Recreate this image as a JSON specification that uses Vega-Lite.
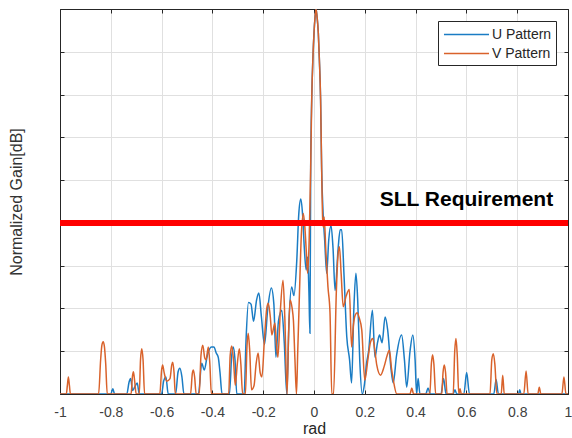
{
 "$schema": "https://vega.github.io/schema/vega-lite/v6.json",
 "width": 508, "height": 385,
 "autosize": {"type": "none"},
 "padding": {"left": 60, "top": 9, "right": 4, "bottom": 44},
 "background": "white",
 "config": {"view": {"stroke": null}, "font": "Liberation Sans"},
 "datasets": {
  "pts": [
   {"pattern":"U Pattern","x":-1,"y":-45},{"pattern":"U Pattern","x":-0.8,"y":-45},{"pattern":"U Pattern","x":-0.792,"y":-44.4},{"pattern":"U Pattern","x":-0.785,"y":-45},
   {"pattern":"U Pattern","x":-0.737,"y":-45},{"pattern":"U Pattern","x":-0.728,"y":-43.6},{"pattern":"U Pattern","x":-0.722,"y":-43.2},{"pattern":"U Pattern","x":-0.714,"y":-44.6},{"pattern":"U Pattern","x":-0.706,"y":-44.2},{"pattern":"U Pattern","x":-0.696,"y":-43.7},{"pattern":"U Pattern","x":-0.688,"y":-45},
   {"pattern":"U Pattern","x":-0.6,"y":-45},{"pattern":"U Pattern","x":-0.592,"y":-43.5},{"pattern":"U Pattern","x":-0.583,"y":-43},{"pattern":"U Pattern","x":-0.574,"y":-45},
   {"pattern":"U Pattern","x":-0.545,"y":-45},{"pattern":"U Pattern","x":-0.535,"y":-42.4},{"pattern":"U Pattern","x":-0.528,"y":-42},{"pattern":"U Pattern","x":-0.52,"y":-43},{"pattern":"U Pattern","x":-0.512,"y":-45},
   {"pattern":"U Pattern","x":-0.455,"y":-45},{"pattern":"U Pattern","x":-0.442,"y":-41.4},{"pattern":"U Pattern","x":-0.432,"y":-42.2},{"pattern":"U Pattern","x":-0.42,"y":-40.5},{"pattern":"U Pattern","x":-0.404,"y":-39.5},{"pattern":"U Pattern","x":-0.394,"y":-39.5},{"pattern":"U Pattern","x":-0.385,"y":-40.2},{"pattern":"U Pattern","x":-0.377,"y":-40.7},{"pattern":"U Pattern","x":-0.37,"y":-42.5},{"pattern":"U Pattern","x":-0.362,"y":-45},
   {"pattern":"U Pattern","x":-0.333,"y":-45},{"pattern":"U Pattern","x":-0.324,"y":-40.5},{"pattern":"U Pattern","x":-0.318,"y":-39.5},{"pattern":"U Pattern","x":-0.311,"y":-41},{"pattern":"U Pattern","x":-0.304,"y":-45},
   {"pattern":"U Pattern","x":-0.275,"y":-45},{"pattern":"U Pattern","x":-0.268,"y":-39},{"pattern":"U Pattern","x":-0.258,"y":-34.3},{"pattern":"U Pattern","x":-0.248,"y":-34.5},{"pattern":"U Pattern","x":-0.238,"y":-36.5},{"pattern":"U Pattern","x":-0.226,"y":-34},{"pattern":"U Pattern","x":-0.217,"y":-33.2},{"pattern":"U Pattern","x":-0.207,"y":-36},{"pattern":"U Pattern","x":-0.195,"y":-39.2},{"pattern":"U Pattern","x":-0.182,"y":-35},{"pattern":"U Pattern","x":-0.168,"y":-32.6},{"pattern":"U Pattern","x":-0.158,"y":-34.5},{"pattern":"U Pattern","x":-0.15,"y":-40.7},{"pattern":"U Pattern","x":-0.14,"y":-36.5},{"pattern":"U Pattern","x":-0.127,"y":-35.2},{"pattern":"U Pattern","x":-0.117,"y":-39},{"pattern":"U Pattern","x":-0.107,"y":-45},{"pattern":"U Pattern","x":-0.099,"y":-37},{"pattern":"U Pattern","x":-0.088,"y":-32.5},{"pattern":"U Pattern","x":-0.079,"y":-33.5},{"pattern":"U Pattern","x":-0.068,"y":-29.5},{"pattern":"U Pattern","x":-0.06,"y":-24},{"pattern":"U Pattern","x":-0.052,"y":-22.2},{"pattern":"U Pattern","x":-0.045,"y":-24},{"pattern":"U Pattern","x":-0.038,"y":-28},{"pattern":"U Pattern","x":-0.031,"y":-30.5},{"pattern":"U Pattern","x":-0.025,"y":-29},{"pattern":"U Pattern","x":-0.02,"y":-33},{"pattern":"U Pattern","x":-0.016,"y":-37.9},
   {"pattern":"U Pattern","x":-0.013,"y":-18.5},{"pattern":"U Pattern","x":-0.009,"y":-10.6},{"pattern":"U Pattern","x":-0.004,"y":-5.5},{"pattern":"U Pattern","x":0,"y":-2.8},{"pattern":"U Pattern","x":0.004,"y":-1},{"pattern":"U Pattern","x":0.008,"y":0},{"pattern":"U Pattern","x":0.012,"y":-0.9},{"pattern":"U Pattern","x":0.017,"y":-2.8},{"pattern":"U Pattern","x":0.021,"y":-5.8},{"pattern":"U Pattern","x":0.026,"y":-10.6},{"pattern":"U Pattern","x":0.03,"y":-18.5},
   {"pattern":"U Pattern","x":0.036,"y":-24},{"pattern":"U Pattern","x":0.042,"y":-27},{"pattern":"U Pattern","x":0.05,"y":-30.9},{"pattern":"U Pattern","x":0.058,"y":-27},{"pattern":"U Pattern","x":0.067,"y":-25.3},{"pattern":"U Pattern","x":0.075,"y":-28},{"pattern":"U Pattern","x":0.083,"y":-32.9},{"pattern":"U Pattern","x":0.095,"y":-28},{"pattern":"U Pattern","x":0.103,"y":-25.8},{"pattern":"U Pattern","x":0.109,"y":-25.8},{"pattern":"U Pattern","x":0.118,"y":-31},{"pattern":"U Pattern","x":0.129,"y":-38.3},{"pattern":"U Pattern","x":0.14,"y":-41},{"pattern":"U Pattern","x":0.148,"y":-43.7},{"pattern":"U Pattern","x":0.157,"y":-35},{"pattern":"U Pattern","x":0.165,"y":-30.9},{"pattern":"U Pattern","x":0.172,"y":-34},{"pattern":"U Pattern","x":0.18,"y":-41},{"pattern":"U Pattern","x":0.19,"y":-45},{"pattern":"U Pattern","x":0.198,"y":-44},{"pattern":"U Pattern","x":0.207,"y":-41.4},{"pattern":"U Pattern","x":0.215,"y":-40},{"pattern":"U Pattern","x":0.23,"y":-35.2},{"pattern":"U Pattern","x":0.24,"y":-40.7},{"pattern":"U Pattern","x":0.25,"y":-39},{"pattern":"U Pattern","x":0.258,"y":-38.1},{"pattern":"U Pattern","x":0.268,"y":-39},{"pattern":"U Pattern","x":0.28,"y":-36},{"pattern":"U Pattern","x":0.29,"y":-37.5},{"pattern":"U Pattern","x":0.303,"y":-42},{"pattern":"U Pattern","x":0.312,"y":-43.7},{"pattern":"U Pattern","x":0.325,"y":-40.5},{"pattern":"U Pattern","x":0.345,"y":-38.1},{"pattern":"U Pattern","x":0.356,"y":-41},{"pattern":"U Pattern","x":0.365,"y":-44.2},{"pattern":"U Pattern","x":0.378,"y":-40},{"pattern":"U Pattern","x":0.389,"y":-38.1},{"pattern":"U Pattern","x":0.398,"y":-41},{"pattern":"U Pattern","x":0.404,"y":-45},{"pattern":"U Pattern","x":0.41,"y":-43.2},{"pattern":"U Pattern","x":0.417,"y":-45},
   {"pattern":"U Pattern","x":0.44,"y":-45},{"pattern":"U Pattern","x":0.449,"y":-44.3},{"pattern":"U Pattern","x":0.458,"y":-45},{"pattern":"U Pattern","x":0.5,"y":-45},{"pattern":"U Pattern","x":0.51,"y":-43.2},{"pattern":"U Pattern","x":0.52,"y":-45},{"pattern":"U Pattern","x":0.548,"y":-45},{"pattern":"U Pattern","x":0.555,"y":-44.5},{"pattern":"U Pattern","x":0.562,"y":-45},{"pattern":"U Pattern","x":0.59,"y":-45},{"pattern":"U Pattern","x":0.601,"y":-42.5},{"pattern":"U Pattern","x":0.612,"y":-45},{"pattern":"U Pattern","x":0.708,"y":-45},{"pattern":"U Pattern","x":0.717,"y":-43.3},{"pattern":"U Pattern","x":0.726,"y":-45},{"pattern":"U Pattern","x":0.805,"y":-45},{"pattern":"U Pattern","x":0.81,"y":-44.5},{"pattern":"U Pattern","x":0.815,"y":-45},{"pattern":"U Pattern","x":1,"y":-45},

   {"pattern":"V Pattern","x":-1,"y":-45},{"pattern":"V Pattern","x":-0.975,"y":-45},{"pattern":"V Pattern","x":-0.971,"y":-44},{"pattern":"V Pattern","x":-0.967,"y":-43},{"pattern":"V Pattern","x":-0.963,"y":-44},{"pattern":"V Pattern","x":-0.959,"y":-45},
   {"pattern":"V Pattern","x":-0.848,"y":-45},{"pattern":"V Pattern","x":-0.84,"y":-41},{"pattern":"V Pattern","x":-0.835,"y":-39.3},{"pattern":"V Pattern","x":-0.83,"y":-38.9},{"pattern":"V Pattern","x":-0.825,"y":-39.5},{"pattern":"V Pattern","x":-0.82,"y":-41.5},{"pattern":"V Pattern","x":-0.814,"y":-45},
   {"pattern":"V Pattern","x":-0.72,"y":-45},{"pattern":"V Pattern","x":-0.715,"y":-43},{"pattern":"V Pattern","x":-0.711,"y":-42.4},{"pattern":"V Pattern","x":-0.706,"y":-43.5},{"pattern":"V Pattern","x":-0.7,"y":-45},
   {"pattern":"V Pattern","x":-0.688,"y":-45},{"pattern":"V Pattern","x":-0.683,"y":-41},{"pattern":"V Pattern","x":-0.678,"y":-39.7},{"pattern":"V Pattern","x":-0.673,"y":-41},{"pattern":"V Pattern","x":-0.667,"y":-45},
   {"pattern":"V Pattern","x":-0.607,"y":-45},{"pattern":"V Pattern","x":-0.6,"y":-42.2},{"pattern":"V Pattern","x":-0.596,"y":-41.6},{"pattern":"V Pattern","x":-0.59,"y":-42.5},{"pattern":"V Pattern","x":-0.58,"y":-43.5},{"pattern":"V Pattern","x":-0.567,"y":-43.2},{"pattern":"V Pattern","x":-0.56,"y":-41.6},{"pattern":"V Pattern","x":-0.556,"y":-41.3},{"pattern":"V Pattern","x":-0.551,"y":-42.5},{"pattern":"V Pattern","x":-0.546,"y":-45},
   {"pattern":"V Pattern","x":-0.486,"y":-45},{"pattern":"V Pattern","x":-0.479,"y":-42.6},{"pattern":"V Pattern","x":-0.475,"y":-42.2},{"pattern":"V Pattern","x":-0.47,"y":-43},{"pattern":"V Pattern","x":-0.464,"y":-45},
   {"pattern":"V Pattern","x":-0.452,"y":-45},{"pattern":"V Pattern","x":-0.445,"y":-40.5},{"pattern":"V Pattern","x":-0.438,"y":-39.3},{"pattern":"V Pattern","x":-0.43,"y":-40.8},{"pattern":"V Pattern","x":-0.425,"y":-41},{"pattern":"V Pattern","x":-0.416,"y":-39.5},{"pattern":"V Pattern","x":-0.41,"y":-41.5},{"pattern":"V Pattern","x":-0.404,"y":-45},
   {"pattern":"V Pattern","x":-0.336,"y":-45},{"pattern":"V Pattern","x":-0.33,"y":-40.5},{"pattern":"V Pattern","x":-0.324,"y":-39.4},{"pattern":"V Pattern","x":-0.317,"y":-41},{"pattern":"V Pattern","x":-0.31,"y":-44},{"pattern":"V Pattern","x":-0.302,"y":-41.5},{"pattern":"V Pattern","x":-0.294,"y":-39.7},{"pattern":"V Pattern","x":-0.288,"y":-41.5},{"pattern":"V Pattern","x":-0.281,"y":-45},
   {"pattern":"V Pattern","x":-0.27,"y":-45},{"pattern":"V Pattern","x":-0.264,"y":-39.5},{"pattern":"V Pattern","x":-0.259,"y":-37.9},{"pattern":"V Pattern","x":-0.253,"y":-40},{"pattern":"V Pattern","x":-0.246,"y":-44.5},{"pattern":"V Pattern","x":-0.236,"y":-44},{"pattern":"V Pattern","x":-0.228,"y":-41.5},{"pattern":"V Pattern","x":-0.22,"y":-40.2},{"pattern":"V Pattern","x":-0.212,"y":-42.5},{"pattern":"V Pattern","x":-0.205,"y":-43},{"pattern":"V Pattern","x":-0.195,"y":-38.5},{"pattern":"V Pattern","x":-0.186,"y":-35},{"pattern":"V Pattern","x":-0.18,"y":-34.4},{"pattern":"V Pattern","x":-0.172,"y":-36},{"pattern":"V Pattern","x":-0.166,"y":-38.1},{"pattern":"V Pattern","x":-0.154,"y":-36.7},{"pattern":"V Pattern","x":-0.147,"y":-39.5},{"pattern":"V Pattern","x":-0.142,"y":-40.7},{"pattern":"V Pattern","x":-0.133,"y":-35.5},{"pattern":"V Pattern","x":-0.122,"y":-31.7},{"pattern":"V Pattern","x":-0.115,"y":-36},{"pattern":"V Pattern","x":-0.106,"y":-45},{"pattern":"V Pattern","x":-0.1,"y":-38},{"pattern":"V Pattern","x":-0.094,"y":-34},{"pattern":"V Pattern","x":-0.086,"y":-35},{"pattern":"V Pattern","x":-0.081,"y":-36.4},{"pattern":"V Pattern","x":-0.075,"y":-41},{"pattern":"V Pattern","x":-0.069,"y":-45},{"pattern":"V Pattern","x":-0.064,"y":-40},{"pattern":"V Pattern","x":-0.058,"y":-34},{"pattern":"V Pattern","x":-0.05,"y":-26.5},{"pattern":"V Pattern","x":-0.042,"y":-23.9},{"pattern":"V Pattern","x":-0.036,"y":-25.5},{"pattern":"V Pattern","x":-0.03,"y":-28.5},{"pattern":"V Pattern","x":-0.025,"y":-30.9},{"pattern":"V Pattern","x":-0.019,"y":-27},
   {"pattern":"V Pattern","x":-0.013,"y":-18.5},{"pattern":"V Pattern","x":-0.009,"y":-10.6},{"pattern":"V Pattern","x":-0.004,"y":-5.5},{"pattern":"V Pattern","x":0,"y":-2.8},{"pattern":"V Pattern","x":0.004,"y":-1},{"pattern":"V Pattern","x":0.008,"y":0},{"pattern":"V Pattern","x":0.012,"y":-0.9},{"pattern":"V Pattern","x":0.017,"y":-2.8},{"pattern":"V Pattern","x":0.021,"y":-5.8},{"pattern":"V Pattern","x":0.026,"y":-10.6},{"pattern":"V Pattern","x":0.03,"y":-18.5},
   {"pattern":"V Pattern","x":0.034,"y":-24.5},{"pattern":"V Pattern","x":0.037,"y":-25.5},{"pattern":"V Pattern","x":0.04,"y":-24.3},{"pattern":"V Pattern","x":0.047,"y":-28.5},{"pattern":"V Pattern","x":0.055,"y":-32.5},{"pattern":"V Pattern","x":0.063,"y":-35.5},{"pattern":"V Pattern","x":0.07,"y":-45},{"pattern":"V Pattern","x":0.077,"y":-45},{"pattern":"V Pattern","x":0.088,"y":-33},{"pattern":"V Pattern","x":0.094,"y":-29},{"pattern":"V Pattern","x":0.1,"y":-27.8},{"pattern":"V Pattern","x":0.107,"y":-31},{"pattern":"V Pattern","x":0.115,"y":-34.8},{"pattern":"V Pattern","x":0.127,"y":-33.5},{"pattern":"V Pattern","x":0.139,"y":-32.8},{"pattern":"V Pattern","x":0.148,"y":-39.5},{"pattern":"V Pattern","x":0.155,"y":-37},{"pattern":"V Pattern","x":0.162,"y":-35.8},{"pattern":"V Pattern","x":0.17,"y":-35.5},{"pattern":"V Pattern","x":0.177,"y":-36},{"pattern":"V Pattern","x":0.188,"y":-37.5},{"pattern":"V Pattern","x":0.2,"y":-43.4},{"pattern":"V Pattern","x":0.212,"y":-41},{"pattern":"V Pattern","x":0.222,"y":-39},{"pattern":"V Pattern","x":0.231,"y":-38.5},{"pattern":"V Pattern","x":0.24,"y":-40},{"pattern":"V Pattern","x":0.247,"y":-41.6},{"pattern":"V Pattern","x":0.262,"y":-42.8},{"pattern":"V Pattern","x":0.276,"y":-41.8},{"pattern":"V Pattern","x":0.288,"y":-40.5},{"pattern":"V Pattern","x":0.297,"y":-39.9},{"pattern":"V Pattern","x":0.305,"y":-42},{"pattern":"V Pattern","x":0.313,"y":-43.5},{"pattern":"V Pattern","x":0.326,"y":-45},
   {"pattern":"V Pattern","x":0.378,"y":-45},{"pattern":"V Pattern","x":0.385,"y":-44.3},{"pattern":"V Pattern","x":0.392,"y":-45},{"pattern":"V Pattern","x":0.456,"y":-45},{"pattern":"V Pattern","x":0.462,"y":-41.5},{"pattern":"V Pattern","x":0.467,"y":-40.4},{"pattern":"V Pattern","x":0.472,"y":-41.5},{"pattern":"V Pattern","x":0.479,"y":-45},{"pattern":"V Pattern","x":0.503,"y":-45},{"pattern":"V Pattern","x":0.508,"y":-42.5},{"pattern":"V Pattern","x":0.513,"y":-41.6},{"pattern":"V Pattern","x":0.518,"y":-42.5},{"pattern":"V Pattern","x":0.524,"y":-45},{"pattern":"V Pattern","x":0.548,"y":-45},{"pattern":"V Pattern","x":0.554,"y":-40},{"pattern":"V Pattern","x":0.559,"y":-38.5},{"pattern":"V Pattern","x":0.564,"y":-40.5},{"pattern":"V Pattern","x":0.57,"y":-45},{"pattern":"V Pattern","x":0.575,"y":-44.4},{"pattern":"V Pattern","x":0.58,"y":-45},
   {"pattern":"V Pattern","x":0.693,"y":-45},{"pattern":"V Pattern","x":0.7,"y":-41},{"pattern":"V Pattern","x":0.706,"y":-40.3},{"pattern":"V Pattern","x":0.712,"y":-41.5},{"pattern":"V Pattern","x":0.72,"y":-45},{"pattern":"V Pattern","x":0.737,"y":-45},{"pattern":"V Pattern","x":0.743,"y":-42.8},{"pattern":"V Pattern","x":0.749,"y":-45},{"pattern":"V Pattern","x":0.826,"y":-45},{"pattern":"V Pattern","x":0.835,"y":-42.3},{"pattern":"V Pattern","x":0.843,"y":-45},{"pattern":"V Pattern","x":0.881,"y":-45},{"pattern":"V Pattern","x":0.887,"y":-44.2},{"pattern":"V Pattern","x":0.893,"y":-45},{"pattern":"V Pattern","x":0.976,"y":-45},{"pattern":"V Pattern","x":0.984,"y":-43},{"pattern":"V Pattern","x":0.992,"y":-45},{"pattern":"V Pattern","x":1,"y":-45}
  ],
  "one": [{"label": "SLL Requirement"}]
 },
 "layer": [
  {
   "data": {"name": "pts"},
   "mark": {"type": "line", "interpolate": "monotone", "strokeWidth": 1.5, "clip": true},
   "encoding": {
    "x": {"field": "x", "type": "quantitative", "scale": {"domain": [-1, 1], "nice": false, "zero": false},
     "axis": {"orient": "bottom", "values": [-1,-0.8,-0.6,-0.4,-0.2,0,0.2,0.4,0.6,0.8,1], "labelExpr": "datum.value == 0 ? '0' : (datum.value < 0 ? '-' : '') + format(abs(datum.value), '~g')", "labelFontSize": 14, "labelColor": "#404040", "labelPadding": 15, "tickSize": -4, "tickColor": "#262626", "domainColor": "#262626", "gridColor": "#e0e0e0", "grid": true, "title": "rad", "titleFontSize": 16, "titleFontWeight": "normal", "titleColor": "#262626", "titlePadding": 1, "labelFlush": false}},
    "y": {"field": "y", "type": "quantitative", "scale": {"domain": [-45, 0], "nice": false, "zero": false},
     "axis": {"orient": "left", "values": [-45,-40,-35,-30,-25,-20,-15,-10,-5,0], "labels": false, "tickSize": -4, "tickColor": "#262626", "domainColor": "#262626", "gridColor": "#e0e0e0", "grid": true, "title": "Normalized Gain[dB]", "titleFontSize": 16, "titleFontWeight": "normal", "titleColor": "#333333", "titlePadding": 35}},
    "color": {"field": "pattern", "type": "nominal", "scale": {"domain": ["U Pattern", "V Pattern"], "range": ["#1a7cc4", "#d9622b"]},
     "legend": {"orient": "none", "legendX": 378, "legendY": 12, "title": null, "symbolType": "M-2.6,0L2.6,0", "symbolSize": 300, "symbolStrokeWidth": 1.5, "symbolOffset": 15, "labelFontSize": 14, "labelColor": "#262626", "strokeColor": "#262626", "fillColor": "white", "padding": 4, "labelOffset": 16, "rowPadding": 2}}
   }
  },
  {
   "data": {"name": "one"},
   "mark": {"type": "rule", "color": "#ff0000", "strokeWidth": 6},
   "encoding": {"y": {"datum": -25, "type": "quantitative", "axis": null}}
  },
  {
   "data": {"name": "one"},
   "mark": {"type": "text", "font": "Liberation Sans", "fontWeight": "bold", "fontSize": 21, "color": "black", "align": "center", "baseline": "middle"},
   "encoding": {
    "text": {"field": "label"},
    "x": {"datum": 0.6, "type": "quantitative", "axis": {"orient": "top", "values": [-1,-0.8,-0.6,-0.4,-0.2,0,0.2,0.4,0.6,0.8,1], "labels": false, "grid": false, "title": null, "tickSize": -4, "tickColor": "#262626", "domainColor": "#262626"}},
    "y": {"datum": -22.3, "type": "quantitative", "axis": {"orient": "right", "values": [-45,-40,-35,-30,-25,-20,-15,-10,-5,0], "labels": false, "grid": false, "title": null, "tickSize": -4, "tickColor": "#262626", "domainColor": "#262626"}}
   }
  }
 ],
 "resolve": {"axis": {"x": "independent", "y": "independent"}}
}
